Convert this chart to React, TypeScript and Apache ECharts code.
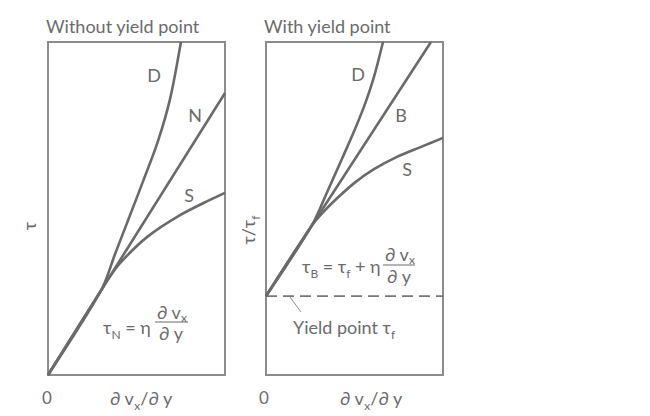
import React, { useEffect, useRef } from "react";
import * as echarts from "echarts";

// Left panel (without yield point): shear rate vs shear stress
const leftN = [[0, 0], [10, 8.47]];
const leftD = [[0, 0], [3.0, 2.54], [3.8, 3.65], [4.6, 4.75], [5.4, 5.86], [6.2, 7.0], [6.9, 8.3], [7.51, 10]];
const leftS = [[0, 0], [3.0, 2.54], [3.4, 2.88], [4.07, 3.36], [5.59, 4.14], [7.46, 4.8], [9.15, 5.26], [10, 5.47]];

// Right panel (with yield point)
const yieldStress = 2.37;
const rightB = [[0, yieldStress], [9.32, 10]];
const rightD = [[0, yieldStress], [2.6, 4.5], [3.5, 5.55], [4.3, 6.5], [5.0, 7.35], [5.6, 8.15], [6.1, 8.95], [6.61, 10]];
const rightS = [[0, yieldStress], [2.6, 4.5], [3.3, 4.93], [4.0, 5.3], [5.0, 5.77], [6.1, 6.18], [7.4, 6.55], [8.76, 6.85], [10, 7.12]];
const yieldLine = [[0, yieldStress], [10, yieldStress]];

const titles = ["Without yield point", "With yield point"];

const FONT = "Lato";
const TXT = "#6b6b6b";
const LINE = "#6a6a6a";

export default function App() {
  const ref = useRef<HTMLDivElement>(null);
  useEffect(() => {
    const chart = echarts.init(ref.current!, null, { renderer: "svg" });
    const axisCommon = { type: "value", min: 0, max: 10, show: false };
    const curve = (data: number[][], idx: number, smooth: number | boolean = false, dashed = false) => ({
      type: "line",
      data,
      xAxisIndex: idx,
      yAxisIndex: idx,
      showSymbol: false,
      symbol: "none",
      smooth,
      clip: true,
      lineStyle: dashed
        ? { color: "#777", width: 1.6, type: [11, 6] }
        : { color: LINE, width: 2.6 },
      silent: true,
    });
    const t = (text: string, x: number, y: number, size = 18, align = "left") => ({
      type: "text",
      x,
      y,
      style: {
        text,
        fill: TXT,
        font: `${size}px ${FONT}`,
        align,
        verticalAlign: "middle",
      },
    });
    // main text with lowered subscripts
    const rich = {
      m: { fontSize: 18, fontFamily: FONT, fill: TXT, lineHeight: 20, verticalAlign: "top" },
      s: { fontSize: 12, fontFamily: FONT, fill: TXT, lineHeight: 14, verticalAlign: "top", padding: [10, 0, 0, 0] },
    };
    const rt = (text: string, x: number, y: number, align = "left", rotation = 0) => ({
      type: "text",
      x,
      y,
      rotation,
      style: { text, rich, align, verticalAlign: "middle", fill: TXT },
    });
    const bar = (x1: number, x2: number, y: number) => ({
      type: "line",
      shape: { x1, y1: y, x2, y2: y },
      style: { stroke: TXT, lineWidth: 1 },
    });
    chart.setOption({
      animation: false,
      grid: [
        { left: 48, top: 42, width: 177, height: 333, show: true, borderColor: "#8c8c8c", borderWidth: 2, backgroundColor: "transparent" },
        { left: 266, top: 42, width: 177, height: 333, show: true, borderColor: "#8c8c8c", borderWidth: 2, backgroundColor: "transparent" },
      ],
      xAxis: [{ ...axisCommon, gridIndex: 0 }, { ...axisCommon, gridIndex: 1 }],
      yAxis: [{ ...axisCommon, gridIndex: 0 }, { ...axisCommon, gridIndex: 1 }],
      series: [
        curve(yieldLine, 1, false, true),
        curve(leftN, 0),
        curve(leftD, 0, 0.3),
        curve(leftS, 0, 0.3),
        curve(rightB, 1),
        curve(rightD, 1, 0.3),
        curve(rightS, 1, 0.3),
      ],
      graphic: [
        t(titles[0], 46, 26),
        t(titles[1], 264, 26),
        // curve labels
        t("D", 154, 75, 18, "center"),
        t("N", 195, 115, 18, "center"),
        t("S", 189, 195, 18, "center"),
        t("D", 358, 74, 18, "center"),
        t("B", 401, 115, 18, "center"),
        t("S", 407, 169, 18, "center"),
        // axis labels
        t("0", 47, 397, 17, "center"),
        t("0", 264, 397, 17, "center"),
        rt("{m|∂ v}{s|x}{m|/∂ y}", 110, 399),
        rt("{m|∂ v}{s|x}{m|/∂ y}", 340, 399),
        rt("{m|τ}", 30, 226, "center", Math.PI / 2),
        rt("{m|τ/τ}{s|f}", 249, 230, "center", Math.PI / 2),
        // left equation
        rt("{m|τ}{s|N}{m| = η}", 103, 328),
        t("∂ v", 157, 312),
        t("x", 181, 317, 12),
        bar(155, 188, 322),
        t("∂ y", 171, 333, 18, "center"),
        // right equation
        rt("{m|τ}{s|B}{m| = τ}{s|f}{m| + η}", 302, 267),
        t("∂ v", 385, 254),
        t("x", 409, 259, 12),
        bar(383, 415, 265),
        t("∂ y", 399, 276, 18, "center"),
        // yield point annotation
        { type: "line", shape: { x1: 290, y1: 297, x2: 301, y2: 312 }, style: { stroke: "#8c8c8c", lineWidth: 1 } },
        rt("{m|Yield point τ}{s|f}", 293, 328),
      ],
    });
    return () => chart.dispose();
  }, []);
  return <div ref={ref} style={{ position: "fixed", left: 0, top: 0, width: 650, height: 416, background: "#fff" }} />;
}
